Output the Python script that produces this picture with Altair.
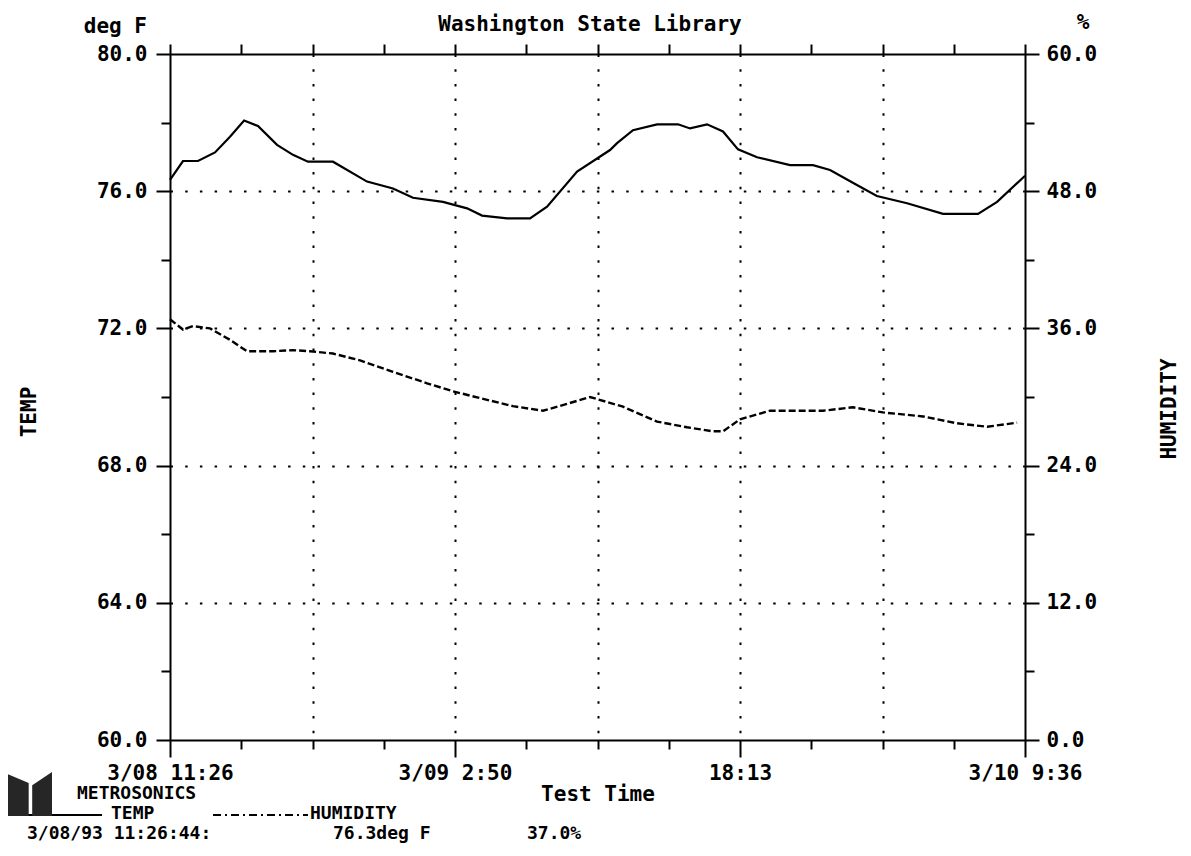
import altair as alt
import pandas as pd

# ---------------- data ----------------
SPAN_HOURS = 46.1667          # 3/08 11:26 -> 3/10 9:36
N_STEPS = 12                  # x ticks every 1/12 of the span

temp_hours = [0.00, 0.70, 1.51, 2.43, 3.24, 4.00, 4.75, 5.78, 6.64, 7.45, 8.80,
              10.64, 12.04, 13.12, 14.74, 16.04, 16.85, 18.20, 19.44, 20.36,
              21.98, 23.76, 24.14, 25.00, 26.30, 27.43, 28.08, 29.00, 29.86,
              30.67, 31.70, 33.48, 34.72, 35.64, 37.09, 38.17, 39.80, 41.74,
              43.63, 44.66, 46.17]
temp_values = [76.33, 76.88, 76.88, 77.13, 77.59, 78.06, 77.90, 77.35, 77.06,
               76.86, 76.86, 76.28, 76.08, 75.81, 75.69, 75.50, 75.29, 75.21,
               75.21, 75.55, 76.57, 77.20, 77.40, 77.78, 77.95, 77.95, 77.83,
               77.95, 77.74, 77.22, 76.99, 76.76, 76.76, 76.62, 76.18, 75.86,
               75.65, 75.34, 75.34, 75.69, 76.45]

hum_hours = [0.00, 0.70, 1.24, 2.16, 3.24, 4.16, 5.56, 6.64, 7.56, 8.80, 10.26,
             12.04, 13.88, 15.28, 16.74, 18.52, 20.14, 21.44, 22.68, 24.46,
             26.30, 27.92, 29.32, 29.86, 30.78, 32.40, 35.26, 36.88, 38.50,
             40.66, 42.50, 44.12, 45.74]
hum_values = [36.8, 35.9, 36.2, 36.0, 35.0, 34.0, 34.0, 34.1, 34.0, 33.8, 33.2,
              32.2, 31.2, 30.5, 29.9, 29.2, 28.8, 29.4, 30.0, 29.15, 27.85,
              27.35, 27.0, 27.0, 28.05, 28.8, 28.8, 29.1, 28.65, 28.3, 27.7,
              27.4, 27.75]

x_label_steps = [0, 4, 8, 12]
x_labels = ["3/08 11:26", "3/09 2:50", "18:13", "3/10 9:36"]

title_text = "Washington State Library"
left_unit = "deg F"
right_unit = "%"
left_title = "TEMP"
right_title = "HUMIDITY"
x_title = "Test Time"
brand = "METROSONICS"
legend_temp = "TEMP"
legend_hum = "HUMIDITY"
footer_parts = ["3/08/93 11:26:44:", "76.3deg F", "37.0%"]

# ---------------- styling ----------------
FONT = "DejaVu Sans Mono"
FS = 21
FS_SMALL = 18
W, H = 855, 686
DOTS = [2.5, 12.2]

temp_df = pd.DataFrame({"hours": temp_hours, "value": temp_values})
hum_df = pd.DataFrame({"hours": hum_hours, "value": hum_values})

pos_calc = f"datum.hours * {N_STEPS} / {SPAN_HOURS}"
x_scale = alt.Scale(domain=[0, N_STEPS], nice=False, zero=False)

x_label_expr = " : ".join(
    f"datum.value == {p} ? '{l}'" for p, l in zip(x_label_steps, x_labels)
) + " : ''"

common_axis = dict(
    labelFont=FONT, labelFontSize=FS, labelFontWeight="bold", labelColor="black",
    domainColor="black", domainWidth=2, tickColor="black", tickWidth=2,
    labelOverlap=False, labelFlush=False, title=None,
)

bottom_axis = alt.Axis(
    orient="bottom", values=list(range(N_STEPS + 1)), labelExpr=x_label_expr,
    tickSize={"condition": {"test": "datum.value % 4 == 0", "value": 17}, "value": 9},
    labelPadding=5, grid=True, gridColor="black", gridWidth=2, gridDash=DOTS,
    gridOpacity={"condition": {"test": "datum.value % 2 == 0 && datum.value > 0 && datum.value < 12",
                               "value": 1}, "value": 0},
    **common_axis,
)
top_axis = alt.Axis(
    orient="top", values=list(range(N_STEPS + 1)), labels=False, tickSize=10,
    grid=False, **common_axis,
)
left_axis = alt.Axis(
    orient="left", values=list(range(60, 81, 2)),
    labelExpr="datum.value % 4 == 0 ? format(datum.value, '.1f') : ''",
    tickSize={"condition": {"test": "datum.value % 4 == 0", "value": 14}, "value": 9},
    labelPadding=9, grid=True, gridColor="black", gridWidth=2, gridDash=DOTS,
    gridOpacity={"condition": {"test": "datum.value % 4 == 0 && datum.value > 60 && datum.value < 80",
                               "value": 1}, "value": 0},
    **common_axis,
)
right_axis = alt.Axis(
    orient="right", values=list(range(0, 61, 6)),
    labelExpr="datum.value % 12 == 0 ? format(datum.value, '.1f') : ''",
    tickSize={"condition": {"test": "datum.value % 12 == 0", "value": 14}, "value": 9},
    labelPadding=7, grid=False, **common_axis,
)

temp_line = alt.Chart(temp_df).transform_calculate(pos=pos_calc).mark_line(
    color="black", strokeWidth=2.2, interpolate="linear"
).encode(
    x=alt.X("pos:Q", scale=x_scale, axis=bottom_axis),
    y=alt.Y("value:Q", scale=alt.Scale(domain=[60, 80], nice=False, zero=False), axis=left_axis),
)

hum_line = alt.Chart(hum_df).transform_calculate(pos=pos_calc).mark_line(
    color="black", strokeWidth=2.4, strokeDash=[7, 3], interpolate="linear"
).encode(
    x=alt.X("pos:Q", scale=x_scale, axis=top_axis),
    y=alt.Y("value:Q", scale=alt.Scale(domain=[0, 60], nice=False, zero=False), axis=right_axis),
)


def label(text, x, y, align="left", angle=0, size=FS):
    return alt.Chart(pd.DataFrame({"t": [text]})).mark_text(
        font=FONT, fontSize=size, fontWeight="bold", color="black",
        align=align, baseline="middle", angle=angle,
    ).encode(text="t:N", x=alt.value(x), y=alt.value(y))


def rule(x1, x2, y, dash=None):
    kw = dict(color="black", strokeWidth=2)
    if dash:
        kw["strokeDash"] = dash
    return alt.Chart(pd.DataFrame({"t": [0]})).mark_rule(**kw).encode(
        x=alt.value(x1), x2=alt.value(x2), y=alt.value(y)
    )


logo_path = ("M -1 -0.9 L -0.06 -0.5 L -0.06 1 L -1 1 Z "
             "M 0.1 -0.4 L 1 -1 L 1 1 L 0.1 1 Z")
logo = alt.Chart(pd.DataFrame({"t": [0]})).mark_point(
    shape=logo_path, filled=True, color="#262626", opacity=1, size=44 * 44, strokeWidth=0
).encode(x=alt.value(-140), y=alt.value(740))

texts = [
    label(title_text, 420, -29, align="center"),
    label(left_unit, -23, -27, align="right"),
    label(right_unit, 913, -31, align="center"),
    label(left_title, -140, 358, align="center", angle=270),
    label(right_title, 1000, 355, align="center", angle=270),
    label(x_title, 428, 741, align="center"),
    label(brand, -93, 740, size=FS_SMALL),
    label(legend_temp, -59, 760, size=FS_SMALL),
    label(legend_hum, 140, 760, size=FS_SMALL),
    label(footer_parts[0], -143, 780, size=FS_SMALL),
    label(footer_parts[1], 163, 780, size=FS_SMALL),
    label(footer_parts[2], 357, 780, size=FS_SMALL),
    rule(-160, -68, 761),
    rule(43, 138, 761, dash=[8, 4, 2, 4]),
    logo,
]

chart = alt.layer(temp_line, hum_line, *texts).resolve_scale(
    y="independent"
).resolve_axis(
    x="independent", y="independent"
).properties(
    width=W, height=H,
    padding={"left": 162, "top": 46, "right": 158, "bottom": 110},
    autosize=alt.AutoSizeParams(type="none"),
    background="white",
).configure_view(stroke=None)

chart.save("out.html", embed_options={"renderer": "svg", "actions": False})
